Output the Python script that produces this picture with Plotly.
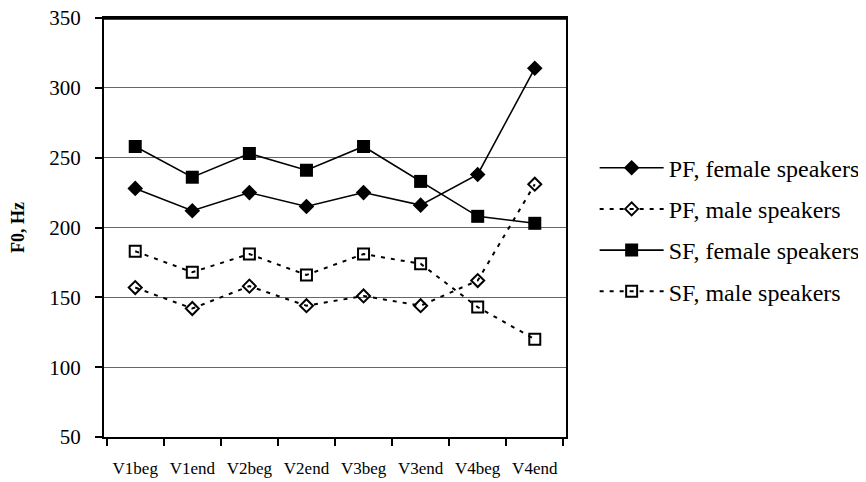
import plotly.graph_objects as go

categories = ["V1beg", "V1end", "V2beg", "V2end", "V3beg", "V3end", "V4beg", "V4end"]
pf_female = [228, 212, 225, 215, 225, 216, 238, 314]
pf_male = [157, 142, 158, 144, 151, 144, 162, 231]
sf_female = [258, 236, 253, 241, 258, 233, 208, 203]
sf_male = [183, 168, 181, 166, 181, 174, 143, 120]
y_ticks = [50, 100, 150, 200, 250, 300, 350]

SERIF = "Palatino Linotype, Book Antiqua, Liberation Serif, serif"

fig = go.Figure()
fig.add_trace(go.Scatter(
    x=categories, y=pf_female, name="PF, female speakers", mode="lines+markers",
    line=dict(color="black", width=1.6),
    marker=dict(symbol="diamond", size=12, color="black"),
    legendgroup="a"))
fig.add_trace(go.Scatter(
    x=categories, y=pf_male, name="PF, male speakers", mode="lines+markers",
    line=dict(color="black", width=2, dash="4px,6px"),
    marker=dict(symbol="diamond-open", size=10, color="black", line=dict(width=2)),
    legendgroup="b"))
fig.add_trace(go.Scatter(
    x=categories, y=sf_female, name="SF, female speakers", mode="lines+markers",
    line=dict(color="black", width=1.6),
    marker=dict(symbol="square", size=13, color="black"),
    legendgroup="c"))
fig.add_trace(go.Scatter(
    x=categories, y=sf_male, name="SF, male speakers", mode="lines+markers",
    line=dict(color="black", width=2, dash="4px,6px"),
    marker=dict(symbol="square-open", size=11, color="black", line=dict(width=2)),
    legendgroup="d"))

# top border of the plot frame
fig.add_shape(type="line", xref="paper", yref="paper", x0=0, x1=1, y0=0.999, y1=0.999,
              line=dict(color="black", width=2.5), layer="above")

fig.update_layout(
    width=858, height=474,
    margin=dict(l=96, r=300, t=10, b=45, autoexpand=False),
    paper_bgcolor="white", plot_bgcolor="white",
    font=dict(family=SERIF, color="black"),
    showlegend=True,
    legend=dict(
        x=1.062, y=0.495, xanchor="left", yanchor="middle",
        font=dict(size=24, family=SERIF),
        tracegroupgap=7, itemwidth=64,
        bgcolor="rgba(0,0,0,0)",
    ),
    xaxis=dict(
        type="category", categoryorder="array", categoryarray=categories,
        tickson="boundaries", ticks="outside", ticklen=7, tickwidth=2, tickcolor="black",
        showline=True, linecolor="black", linewidth=2, mirror=True,
        showgrid=False, tickfont=dict(size=17, family=SERIF),
        ticklabelstandoff=15, automargin=False, ticklabeloverflow="allow",
    ),
    yaxis=dict(
        range=[50, 350], tickvals=y_ticks, ticks="outside", ticklen=7, tickwidth=2,
        tickcolor="black",
        showline=True, linecolor="black", linewidth=2, mirror=True,
        showgrid=True, gridcolor="#666666", gridwidth=1.3,
        tickfont=dict(size=21, family=SERIF),
        ticklabelstandoff=10, automargin=False, ticklabeloverflow="allow",
        title=dict(text="<b>F0, Hz</b>", font=dict(size=18, family=SERIF), standoff=20),
        zeroline=False,
    ),
)

fig.write_html("out.html")
